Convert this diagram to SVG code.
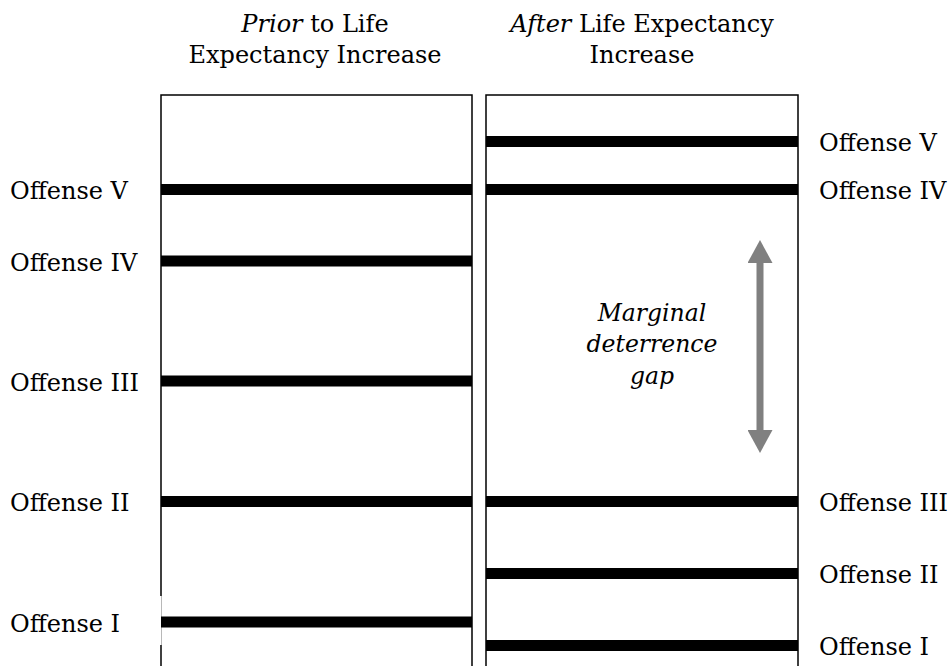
<svg xmlns="http://www.w3.org/2000/svg" width="951" height="666" viewBox="0 0 951 666">
<style>
text{font-family:"DejaVu Serif","Liberation Serif",serif;font-size:24px;fill:#000}
.it{font-style:italic}
.gl{font-size:23.5px;font-style:italic}
.col{fill:none;stroke:#000;stroke-width:1.5}
.bar{fill:#000}
</style>
<defs>
<marker id="ah" viewBox="0 0 23 25" refX="0" refY="12.5" markerWidth="23" markerHeight="25" markerUnits="userSpaceOnUse" orient="auto-start-reverse">
<path d="M0,0 L23,12.5 L0,25 Z" fill="#808080"/>
</marker>
</defs>
<rect width="951" height="666" fill="#fff"/>
<g id="title-left">
<text x="315" y="32" text-anchor="middle"><tspan class="it">Prior</tspan> to Life</text>
<text x="315" y="63" text-anchor="middle">Expectancy Increase</text>
</g>
<g id="title-right">
<text x="642" y="32" text-anchor="middle"><tspan class="it">After</tspan> Life Expectancy</text>
<text x="642" y="63" text-anchor="middle">Increase</text>
</g>
<g id="column-left">
<path class="col" d="M161,596 V95 H472 V666"/>
<path d="M161,645 V666" stroke="#000" stroke-width="1.5"/>
<path d="M161.5,596 V645" stroke="#999" stroke-width="0.7"/>
</g>
<g id="column-right">
<path class="col" d="M486,666 V95 H798 V666"/>
</g>
<g id="left-bars">
<rect class="bar" x="161" y="184" width="311" height="11"/>
<rect class="bar" x="161" y="255.5" width="311" height="11"/>
<rect class="bar" x="161" y="375.5" width="311" height="11"/>
<rect class="bar" x="161" y="496" width="311" height="11"/>
<rect class="bar" x="161" y="616.5" width="311" height="11"/>
</g>
<g id="right-bars">
<rect class="bar" x="486" y="136" width="312" height="11"/>
<rect class="bar" x="486" y="184" width="312" height="11"/>
<rect class="bar" x="486" y="496" width="312" height="11"/>
<rect class="bar" x="486" y="568" width="312" height="11"/>
<rect class="bar" x="486" y="640" width="312" height="11"/>
</g>
<g id="left-labels">
<text x="10" y="199">Offense V</text>
<text x="10" y="270.5">Offense IV</text>
<text x="10" y="390.5">Offense III</text>
<text x="10" y="511">Offense II</text>
<text x="10" y="631.5">Offense I</text>
</g>
<g id="right-labels">
<text x="819" y="151">Offense V</text>
<text x="819" y="199">Offense IV</text>
<text x="819" y="511">Offense III</text>
<text x="819" y="583">Offense II</text>
<text x="819" y="655">Offense I</text>
</g>
<g id="gap-label">
<text class="gl" x="652" y="321" text-anchor="middle">Marginal</text>
<text class="gl" x="652" y="352" text-anchor="middle">deterrence</text>
<text class="gl" x="652" y="384" text-anchor="middle">gap</text>
</g>
<g id="connectors">
<line x1="760" y1="263" x2="760" y2="430" stroke="#808080" stroke-width="7" marker-start="url(#ah)" marker-end="url(#ah)"/>
</g>
</svg>
